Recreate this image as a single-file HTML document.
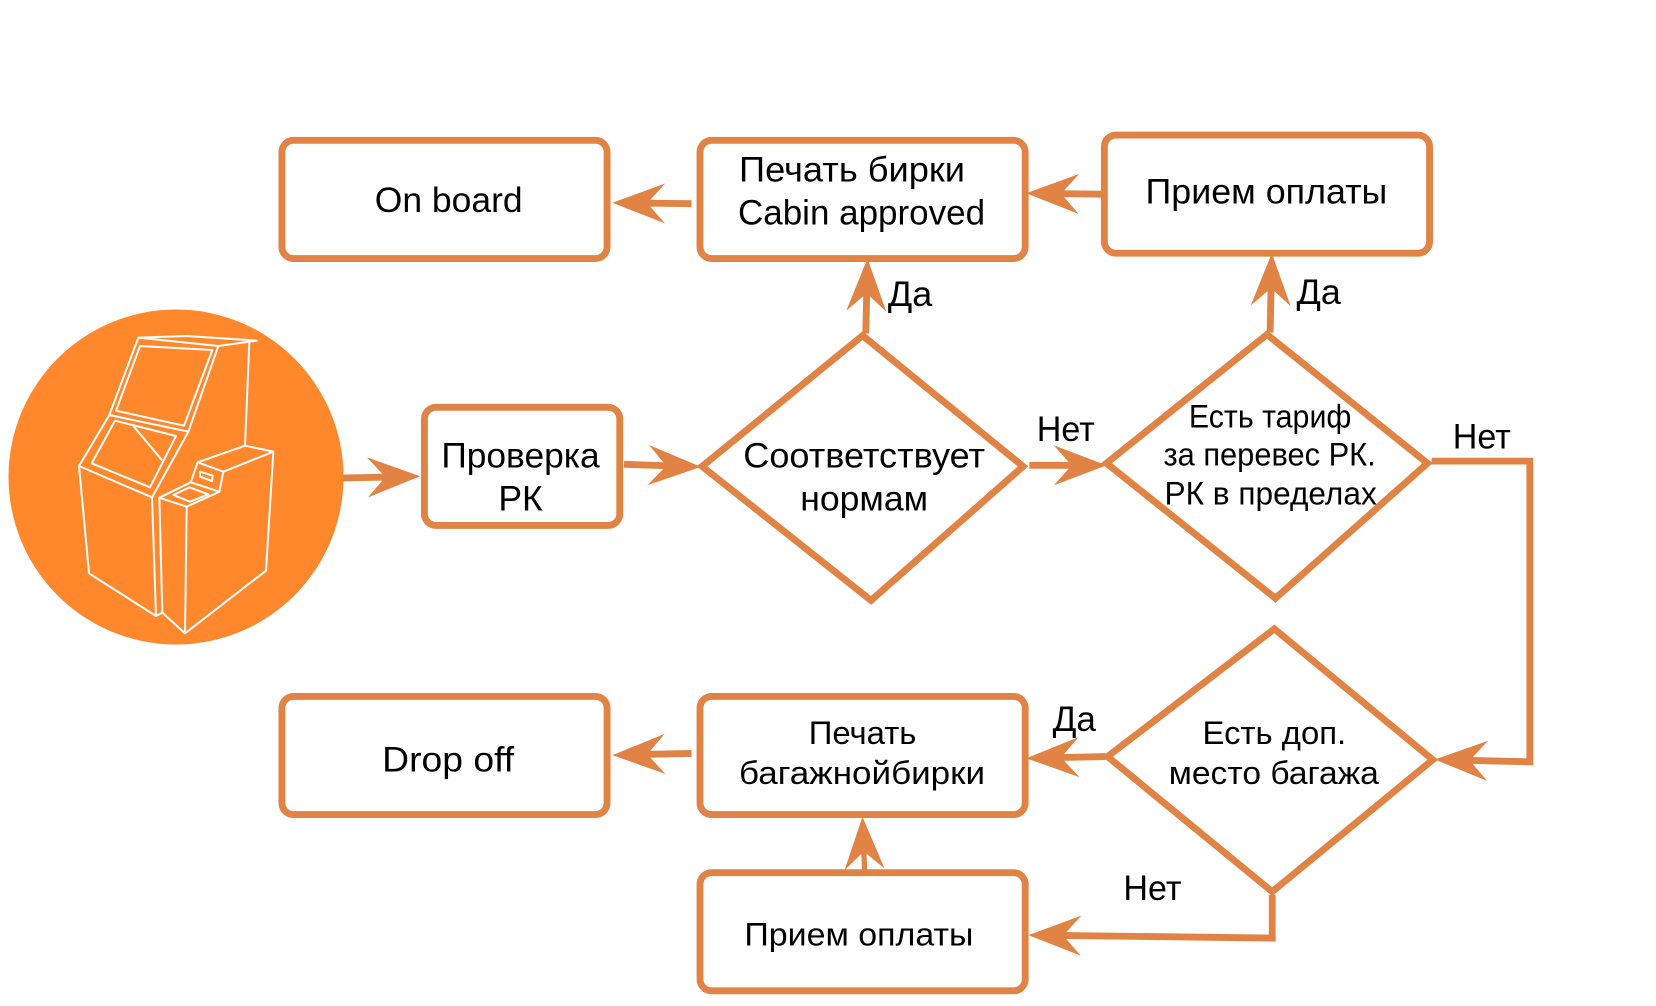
<!DOCTYPE html>
<html><head><meta charset="utf-8">
<style>
html,body{margin:0;padding:0;background:#fff;width:1656px;height:1006px;overflow:hidden}
svg{display:block}
text{font-family:"Liberation Sans",sans-serif;fill:#000;font-size:33.5px}
.s{font-size:31px}
.b{fill:#fff;stroke:#E08345;stroke-width:6.500}
.l{fill:none;stroke:#E08345;stroke-width:6.500;marker-end:url(#a)}
.k{fill:none;stroke:#fff;stroke-width:6;stroke-linejoin:round}
</style></head>
<body>
<svg width="1656" height="1006" viewBox="0 0 1656 1006" xmlns="http://www.w3.org/2000/svg">
<defs>
<marker id="a" markerUnits="userSpaceOnUse" markerWidth="60" markerHeight="50" refX="22" refY="25" orient="auto" overflow="visible">
<path d="M50,25 L0,6 L17,25 L0,44 Z" fill="#E08345"/>
</marker>
</defs>
<circle cx="176" cy="477" r="167.500" fill="#FF882D"/>
<g transform="translate(0,290) scale(0.33333)">
<path class="k" d="M415,143 L560,138 L770,152 L655,168 Z"/>
<path class="k" d="M415,143 L328,375 L237,528 L267,850 L468,978 L456,622 L237,528"/>
<path class="k" d="M655,168 L565,425 L328,375"/>
<path class="k" d="M420,168 L637,180 L552,407 L348,362 Z"/>
<path class="k" d="M345,392 L528,438 L450,592 L275,520 Z"/>
<path class="k" d="M400,408 L487,512"/>
<path class="k" d="M565,425 L456,622"/>
<path class="k" d="M748,155 L735,467 L820,485 L670,545 L593,517 L735,467"/>
<path class="k" d="M820,485 L798,842 L555,1030 L487,968 L468,978"/>
<path class="k" d="M593,517 L572,577 L658,605 L670,545"/>
<path class="k" d="M658,605 L560,650 L478,623 L572,577"/>
<path class="k" d="M478,623 L487,968 M560,650 L555,1030"/>
<path class="k" d="M600,545 L638,557 L636,573 L600,560 Z"/>
<path class="k" d="M520,615 L568,592 L625,613 L570,635 Z"/>
</g>
<g transform="scale(1.0558,1.0552)">
<rect class="b" x="267" y="133" width="308" height="112" rx="11"/>
<rect class="b" x="663" y="133" width="308" height="112" rx="11"/>
<rect class="b" x="1046" y="128" width="308" height="112" rx="11"/>
<rect class="b" x="402" y="386" width="185" height="112" rx="11"/>
<rect class="b" x="267" y="660" width="308" height="112" rx="11"/>
<rect class="b" x="663" y="660" width="308" height="112" rx="11"/>
<rect class="b" x="663" y="827" width="308" height="112" rx="11"/>
<polygon class="b" points="817,318 969,442 825,569 665,442"/>
<polygon class="b" points="1200,317 1352,439 1208,567 1048,439"/>
<polygon class="b" points="1207,596 1357,720 1205,845 1049,717"/>
<path class="l" d="M325,453 L370,452"/>
<path class="l" d="M591,440 L636,441.500"/>
<path class="l" d="M975,441 L1020,441"/>
<path class="l" d="M820,316 L821,273"/>
<path class="l" d="M1203,315 L1204,268"/>
<path class="l" d="M655,193 L608,192.500"/>
<path class="l" d="M1044,184 L1000,183.500"/>
<path class="l" d="M1356,437 L1449,437 L1449,722 L1387,720.500"/>
<path class="l" d="M1047,717 L1000,718"/>
<path class="l" d="M655,714 L608,715"/>
<path class="l" d="M1205,848 L1205,889 L1002,886.500"/>
<path class="l" style="stroke-width:5" d="M819,827 L818,802"/>
<text x="355" y="201" textLength="140" lengthAdjust="spacingAndGlyphs">On board</text>
<text x="700" y="172" textLength="214" lengthAdjust="spacingAndGlyphs">Печать бирки</text>
<text x="699" y="213" textLength="234" lengthAdjust="spacingAndGlyphs">Cabin approved</text>
<text x="1085" y="193" textLength="229" lengthAdjust="spacingAndGlyphs">Прием оплаты</text>
<text x="841" y="290" textLength="42" lengthAdjust="spacingAndGlyphs">Да</text>
<text x="1228" y="288" textLength="42" lengthAdjust="spacingAndGlyphs">Да</text>
<text x="418" y="443" textLength="150" lengthAdjust="spacingAndGlyphs">Проверка</text>
<text x="472" y="484" textLength="42" lengthAdjust="spacingAndGlyphs">РК</text>
<text x="704" y="443" textLength="229" lengthAdjust="spacingAndGlyphs">Соответствует</text>
<text x="758" y="484" textLength="121" lengthAdjust="spacingAndGlyphs">нормам</text>
<text x="982" y="418" textLength="55" lengthAdjust="spacingAndGlyphs">Нет</text>
<text class="s" x="1126" y="405" textLength="154" lengthAdjust="spacingAndGlyphs">Есть тариф</text>
<text class="s" x="1102" y="441" textLength="201" lengthAdjust="spacingAndGlyphs">за перевес РК.</text>
<text class="s" x="1103" y="478" textLength="201" lengthAdjust="spacingAndGlyphs">РК в пределах</text>
<text x="1376" y="425" textLength="55" lengthAdjust="spacingAndGlyphs">Нет</text>
<text class="s" x="1139" y="705" textLength="136" lengthAdjust="spacingAndGlyphs">Есть доп.</text>
<text class="s" x="1107" y="743" textLength="199" lengthAdjust="spacingAndGlyphs">место багажа</text>
<text x="997" y="693" textLength="41" lengthAdjust="spacingAndGlyphs">Да</text>
<text class="s" x="766" y="705" textLength="102" lengthAdjust="spacingAndGlyphs">Печать</text>
<text class="s" x="700" y="743" textLength="233" lengthAdjust="spacingAndGlyphs">багажнойбирки</text>
<text x="362" y="731" textLength="125" lengthAdjust="spacingAndGlyphs">Drop off</text>
<text class="s" x="705" y="896" textLength="217" lengthAdjust="spacingAndGlyphs">Прием оплаты</text>
<text x="1064" y="853" textLength="55" lengthAdjust="spacingAndGlyphs">Нет</text>
</g>
</svg>
</body></html>
